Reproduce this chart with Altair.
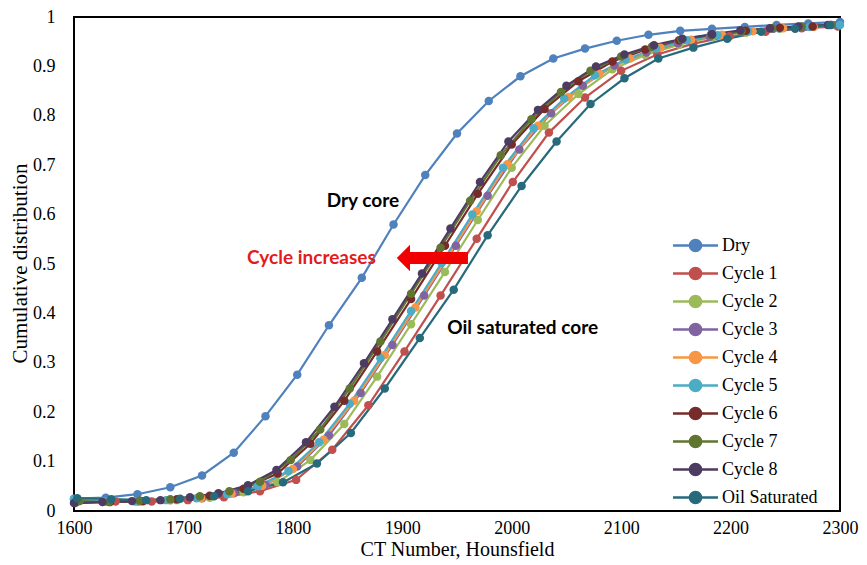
import altair as alt
import pandas as pd

series_names = ["Dry", "Cycle 1", "Cycle 2", "Cycle 3", "Cycle 4", "Cycle 5",
                "Cycle 6", "Cycle 7", "Cycle 8", "Oil Saturated"]
colors = ["#4F81BD", "#C0504D", "#9BBB59", "#8064A2", "#F79646", "#4BACC6",
          "#772C2A", "#5F7530", "#4D3B62", "#276A7C"]

dry_x = [1600, 1629, 1658, 1688, 1717, 1746, 1775, 1804, 1833, 1863, 1892, 1921, 1950,
         1979, 2008, 2038, 2067, 2096, 2125, 2154, 2183, 2213, 2242, 2271, 2300]
dry_y = [0.025, 0.027, 0.034, 0.048, 0.072, 0.118, 0.192, 0.276, 0.376, 0.472, 0.580, 0.680, 0.764,
         0.830, 0.880, 0.916, 0.936, 0.952, 0.964, 0.972, 0.976, 0.980, 0.984, 0.987, 0.990]

c1_x = [1605, 1638, 1671, 1704, 1737, 1770, 1803, 1836, 1869, 1902, 1935, 1968, 2001, 2034,
        2067, 2100, 2133, 2166, 2199, 2232, 2265, 2298]
c1_y = [0.020, 0.019, 0.019, 0.022, 0.028, 0.040, 0.063, 0.124, 0.214, 0.323, 0.436, 0.551, 0.666, 0.766,
        0.837, 0.891, 0.924, 0.946, 0.961, 0.970, 0.977, 0.981]

c2_x = [1602, 1633, 1663, 1694, 1724, 1755, 1786, 1816, 1847, 1877, 1908, 1939, 1969, 2000,
        2030, 2061, 2092, 2122, 2153, 2183, 2214, 2245, 2275]
c2_y = [0.022, 0.019, 0.019, 0.022, 0.027, 0.038, 0.058, 0.103, 0.176, 0.272, 0.378, 0.484, 0.589, 0.695,
        0.780, 0.844, 0.894, 0.923, 0.944, 0.959, 0.968, 0.976, 0.980]

c3_x = [1601, 1630, 1659, 1688, 1717, 1746, 1775, 1804, 1833, 1862, 1891, 1920, 1949, 1978,
        2007, 2036, 2065, 2094, 2123, 2152, 2181, 2210, 2239, 2268, 2297]
c3_y = [0.016, 0.019, 0.019, 0.022, 0.026, 0.036, 0.053, 0.090, 0.153, 0.239, 0.336, 0.436, 0.537, 0.638,
        0.732, 0.805, 0.861, 0.902, 0.928, 0.947, 0.960, 0.969, 0.976, 0.980, 0.983]

c4_x = [1604, 1632, 1660, 1688, 1716, 1744, 1772, 1800, 1828, 1856, 1884, 1912, 1940, 1968,
        1996, 2024, 2052, 2080, 2108, 2136, 2164, 2192, 2220, 2248, 2276]
c4_y = [0.020, 0.019, 0.019, 0.022, 0.026, 0.035, 0.051, 0.085, 0.144, 0.223, 0.316, 0.412, 0.509, 0.607,
        0.702, 0.780, 0.838, 0.885, 0.916, 0.938, 0.954, 0.964, 0.971, 0.977, 0.980]

c5_x = [1600, 1628, 1656, 1684, 1712, 1740, 1768, 1796, 1824, 1852, 1880, 1908, 1936, 1964,
        1992, 2020, 2048, 2076, 2104, 2132, 2160, 2188, 2216, 2244, 2272, 2300]
c5_y = [0.024, 0.019, 0.019, 0.022, 0.026, 0.034, 0.050, 0.081, 0.139, 0.217, 0.309, 0.405, 0.502, 0.600,
        0.695, 0.775, 0.835, 0.882, 0.914, 0.936, 0.953, 0.963, 0.971, 0.977, 0.980, 0.984]

c6_x = [1602, 1633, 1663, 1694, 1724, 1755, 1786, 1816, 1847, 1877, 1908, 1939, 1969, 2000,
        2030, 2061, 2092, 2122, 2153, 2183, 2214, 2245, 2275]
c6_y = [0.018, 0.018, 0.020, 0.024, 0.031, 0.045, 0.076, 0.136, 0.223, 0.323, 0.429, 0.537, 0.642, 0.742,
        0.814, 0.870, 0.910, 0.934, 0.953, 0.964, 0.972, 0.978, 0.981]

c7_x = [1605, 1632, 1660, 1688, 1715, 1742, 1770, 1798, 1825, 1852, 1880, 1908, 1935, 1962,
        1990, 2018, 2045, 2072, 2100, 2128, 2155, 2182, 2210, 2238, 2265, 2292]
c7_y = [0.020, 0.018, 0.021, 0.024, 0.030, 0.040, 0.059, 0.103, 0.165, 0.248, 0.343, 0.440, 0.533, 0.628,
        0.720, 0.793, 0.848, 0.891, 0.920, 0.940, 0.955, 0.964, 0.971, 0.977, 0.981, 0.984]

c8_x = [1600, 1626, 1653, 1679, 1706, 1732, 1759, 1785, 1812, 1838, 1865, 1891, 1918, 1944,
        1971, 1997, 2024, 2050, 2077, 2103, 2130, 2156, 2183, 2209, 2236, 2262, 2289]
c8_y = [0.016, 0.018, 0.020, 0.022, 0.028, 0.036, 0.052, 0.083, 0.139, 0.211, 0.299, 0.388, 0.481, 0.572,
        0.666, 0.748, 0.812, 0.861, 0.900, 0.924, 0.943, 0.956, 0.965, 0.973, 0.977, 0.981, 0.984]

oil_x = [1603, 1634, 1666, 1697, 1728, 1759, 1791, 1822, 1853, 1884, 1916, 1947, 1978, 2009,
         2041, 2072, 2103, 2134, 2166, 2197, 2228, 2259, 2291]
oil_y = [0.026, 0.024, 0.022, 0.025, 0.030, 0.040, 0.058, 0.096, 0.158, 0.248, 0.350, 0.448, 0.558, 0.658,
         0.748, 0.824, 0.876, 0.916, 0.938, 0.956, 0.970, 0.976, 0.984]

x_ticks = [1600, 1700, 1800, 1900, 2000, 2100, 2200, 2300]
y_ticks = [0, 0.1, 0.2, 0.3, 0.4, 0.5, 0.6, 0.7, 0.8, 0.9, 1]

ann_labels = ["Dry core", "Oil saturated core"]
ann_x = [1864, 2010]
ann_y = [0.628, 0.370]
red_label = ["Cycle increases"]
red_x = [1817]
red_y = [0.512]
arrow_tail_x = [1960]
arrow_shaft_end_x = [1905]
arrow_head_x = [1901]
arrow_y = [0.512]

all_x = [dry_x, c1_x, c2_x, c3_x, c4_x, c5_x, c6_x, c7_x, c8_x, oil_x]
all_y = [dry_y, c1_y, c2_y, c3_y, c4_y, c5_y, c6_y, c7_y, c8_y, oil_y]

frames = []
for name, xs, ys in zip(series_names, all_x, all_y):
    frames.append(pd.DataFrame({"series": name, "x": xs, "y": ys, "i": range(len(xs))}))
df = pd.concat(frames, ignore_index=True)

SERIF = "Liberation Serif"
color_scale = alt.Scale(domain=series_names, range=colors)
legend_symbol = ("M-2,0L-0.5,0M0.5,0L2,0"
                 "M-0.5,0A0.5,0.5,0,1,1,0.5,0A0.5,0.5,0,1,1,-0.5,0Z")
legend = alt.Legend(
    title=None, orient="none", legendX=609, legendY=216,
    symbolType=legend_symbol, symbolSize=506, symbolStrokeWidth=2.5,
    labelFont=SERIF, labelFontSize=18, labelColor="black", labelOffset=14,
    rowPadding=4, padding=0, symbolOpacity=1,
)

x_enc = alt.X("x:Q", scale=alt.Scale(domain=[1600, 2300], nice=False, zero=False),
              axis=alt.Axis(values=x_ticks, title="CT Number, Hounsfield", format="d",
                            labelPadding=8, labelFlush=False, titleX=383, titleY=38,
                            titleBaseline="middle", titleFontSize=20))
y_enc = alt.Y("y:Q", scale=alt.Scale(domain=[0, 1], nice=False),
              axis=alt.Axis(values=y_ticks, title="Cumulative distribution", format="~g",
                            labelPadding=19, labelFlush=False, titleX=-54, titleY=246,
                            titleAngle=270, titleBaseline="middle", titleAlign="center"))
color_enc = alt.Color("series:N", scale=color_scale, sort=series_names, legend=legend)

base = alt.Chart(df)
lines = base.mark_line(strokeWidth=2.2).encode(x=x_enc, y=y_enc, color=color_enc, order="i:Q")
points = base.mark_point(filled=True, size=72, opacity=1).encode(x=x_enc, y=y_enc, color=color_enc)

ann_df = pd.DataFrame({"x": ann_x, "y": ann_y, "label": ann_labels})
ann = alt.Chart(ann_df).mark_text(font="Lato", fontWeight="bold", fontSize=19, color="black").encode(
    x="x:Q", y="y:Q", text="label:N")

red_df = pd.DataFrame({"x": red_x, "y": red_y, "label": red_label})
red = alt.Chart(red_df).mark_text(font="Lato", fontWeight="bold", fontSize=19, color="#E41B1B").encode(
    x="x:Q", y="y:Q", text="label:N")

arrow_df = pd.DataFrame({"x": arrow_tail_x, "x2": arrow_shaft_end_x, "xh": arrow_head_x, "y": arrow_y})
shaft = alt.Chart(arrow_df).mark_rule(strokeWidth=12, color="#F00000").encode(x="x:Q", x2="x2:Q", y="y:Q")
head = alt.Chart(arrow_df).mark_point(shape="M-0.5,0L0.5,-1L0.5,1Z", size=700, filled=True,
                                      color="#F00000", opacity=1).encode(x="xh:Q", y="y:Q")

chart = alt.layer(lines, points, ann, red, shaft, head).properties(
    width=766, height=494,
    autosize=alt.AutoSizeParams(type="none"),
    padding={"left": 66, "top": 9, "right": 19, "bottom": 54},
    background="white",
).configure_view(stroke="black", strokeWidth=2).configure_axis(
    domain=False, ticks=False, grid=False,
    labelFont=SERIF, labelFontSize=18, labelColor="black",
    titleFont=SERIF, titleFontSize=21, titleFontWeight="normal", titleColor="black",
)

chart.save("out.html", embed_options={"renderer": "svg", "actions": False})
